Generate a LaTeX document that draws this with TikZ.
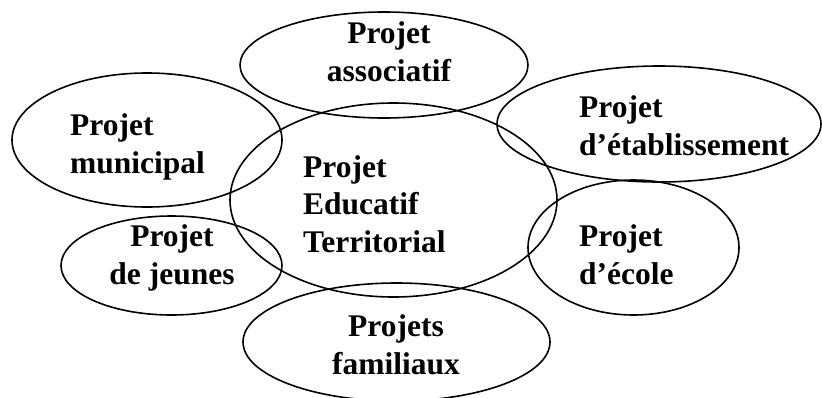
\documentclass[tikz,border=0pt]{standalone}
\usepackage{fontspec}
\setmainfont{Liberation Serif}
\usetikzlibrary{shapes.geometric}
\begin{document}
\begin{tikzpicture}[x=1pt,y=-1pt,
  ring/.style={draw=black,line width=1.6pt,shape=ellipse,inner sep=0pt},
  lbl/.style={inner sep=0pt,font=\bfseries\fontsize{31.5}{37.5}\selectfont},
  lblL/.style={lbl,align=left,anchor=base west},
  lblC/.style={lbl,align=center,anchor=base}]
\useasboundingbox (0,0) rectangle (822,397);
\node[ring,minimum width=288pt,minimum height=106pt] (assoc) at (384,65) {};
\node[ring,minimum width=270pt,minimum height=134pt] (muni) at (147,140) {};
\node[ring,minimum width=327pt,minimum height=194pt] (pet) at (393.5,200) {};
\node[ring,minimum width=324pt,minimum height=116pt] (etab) at (659,124) {};
\node[ring,minimum width=211pt,minimum height=135pt] (ecole) at (633.5,247.5) {};
\node[ring,minimum width=221pt,minimum height=99pt] (jeunes) at (171.5,265.5) {};
\node[ring,minimum width=307pt,minimum height=118pt] (fam) at (396.5,342) {};
\node[lblC] (tassoc) at (389,81) {Projet\\associatif};
\node[lblL] (tmuni) at (70,173) {Projet\\municipal};
\node[lblL] (tetab) at (579,155) {Projet\\d’établissement};
\node[lblL] (tpet) at (303,252) {Projet\\Educatif\\Territorial};
\node[lblC] (tjeunes) at (172,284) {Projet\\de jeunes};
\node[lblL] (tecole) at (579,284) {Projet\\d’école};
\node[lblC] (tfam) at (396,374) {Projets\\familiaux};
\end{tikzpicture}
\end{document}
